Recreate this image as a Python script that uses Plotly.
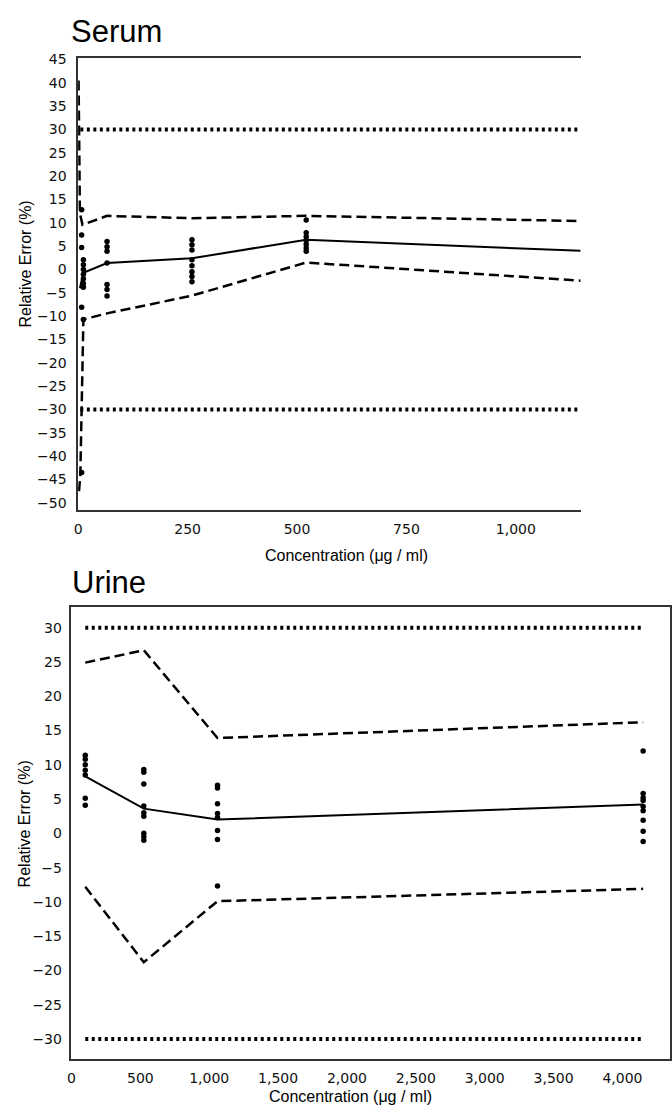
import plotly.graph_objects as go

# ---------------- Serum data ----------------
serum_pts_x = [8, 8, 8, 12, 12, 12, 12, 12, 12, 12, 8, 12, 8,
               66, 66, 66, 66, 66, 66, 66,
               260, 260, 260, 260, 260, 260, 260, 260,
               521, 521, 521, 521, 521, 521, 521]
serum_pts_y = [12.8, 7.4, 4.7, 2.1, 1.0, 0.0, -1.0, -2.0, -3.0, -3.8, -8.1, -10.7, -43.5,
               6.0, 4.9, 3.9, 1.4, -3.2, -4.3, -5.7,
               6.4, 5.3, 4.2, 2.1, 0.8, -0.5, -1.5, -2.6,
               10.6, 7.9, 7.0, 6.2, 5.4, 4.6, 3.9]

serum_mean_x = [4, 12, 66, 260, 521, 1148]
serum_mean_y = [-4.0, -0.7, 1.4, 2.4, 6.4, 4.0]

serum_upper_x = [1, 4, 10, 66, 260, 521, 1148]
serum_upper_y = [40.5, 12.0, 9.6, 11.5, 11.0, 11.5, 10.4]

serum_lower_x = [2, 5, 12, 66, 260, 521, 1148]
serum_lower_y = [-47.5, -44.0, -10.7, -9.4, -5.6, 1.5, -2.4]

serum_limit_x = [5, 1148]
serum_limit = 30

serum_yticks = list(range(-50, 50, 5))
serum_xticks = [0, 250, 500, 750, 1000]

# ---------------- Urine data ----------------
urine_pts_x = [100] * 7 + [525] * 9 + [1060] * 8 + [4150] * 9
urine_pts_y = [11.4, 10.8, 10.0, 9.2, 8.5, 5.1, 4.1,
               9.3, 8.9, 7.2, 4.0, 3.0, 2.5, 0.0, -0.5, -1.0,
               7.0, 6.6, 4.3, 2.9, 2.3, 0.4, -0.9, -7.7,
               12.0, 5.8, 5.2, 4.8, 3.9, 3.3, 1.9, 0.3, -1.2]

urine_line_x = [100, 525, 1060, 4150]
urine_mean_y = [8.3, 3.6, 2.0, 4.2]
urine_upper_y = [24.9, 26.7, 13.9, 16.2]
urine_lower_y = [-7.8, -18.8, -9.9, -8.1]

urine_limit_x = [100, 4150]
urine_limit = 30

urine_yticks = list(range(-30, 35, 5))
urine_xticks = list(range(0, 4500, 500))

# ---------------- figure ----------------
W, H = 672, 1105

def fx(p):
    return p / W

def fy(p):
    return 1 - p / H

fig = go.Figure()

BLACK = "#000000"
DASH = "10px,5px"
DOT = "3px,3.5px"

def add_panel(xa, ya, pts_x, pts_y, mean_x, mean_y, up_x, up_y, lo_x, lo_y, lim_x, lim):
    common = dict(xaxis=xa, yaxis=ya, showlegend=False, hoverinfo="skip")
    for sgn in (1, -1):
        fig.add_trace(go.Scatter(x=lim_x, y=[sgn * lim] * 2, mode="lines",
                                 line=dict(color=BLACK, width=4, dash=DOT), **common))
    fig.add_trace(go.Scatter(x=up_x, y=up_y, mode="lines",
                             line=dict(color=BLACK, width=2.5, dash=DASH), **common))
    fig.add_trace(go.Scatter(x=lo_x, y=lo_y, mode="lines",
                             line=dict(color=BLACK, width=2.5, dash=DASH), **common))
    fig.add_trace(go.Scatter(x=mean_x, y=mean_y, mode="lines",
                             line=dict(color=BLACK, width=2), **common))
    fig.add_trace(go.Scatter(x=pts_x, y=pts_y, mode="markers",
                             marker=dict(color=BLACK, size=5.5), **common))

add_panel("x", "y", serum_pts_x, serum_pts_y, serum_mean_x, serum_mean_y,
          serum_upper_x, serum_upper_y, serum_lower_x, serum_lower_y,
          serum_limit_x, serum_limit)
add_panel("x2", "y2", urine_pts_x, urine_pts_y, urine_line_x, urine_mean_y,
          urine_line_x, urine_upper_y, urine_line_x, urine_lower_y,
          urine_limit_x, urine_limit)

tickfont = dict(family="DejaVu Sans", size=14, color="#111111")
axline = dict(showline=True, linecolor="#333333", linewidth=1.5, showgrid=False,
              zeroline=False, ticks="", tickfont=tickfont)

fig.update_layout(
    width=W, height=H,
    margin=dict(l=0, r=0, t=0, b=0),
    paper_bgcolor="white", plot_bgcolor="white",
    xaxis=dict(domain=[fx(74.7), fx(581)], range=[0, 1148], anchor="y",
               tickvals=serum_xticks, tickformat=",d", mirror=True,
               ticklabelstandoff=5, **axline),
    yaxis=dict(domain=[fy(507), fy(52)], range=[-51.6, 45.4], anchor="x",
               tickvals=serum_yticks, mirror=False, ticklabelstandoff=7, **axline),
    xaxis2=dict(domain=[fx(68), fx(671)], range=[0, 4345], anchor="y2",
                tickvals=urine_xticks, tickformat=",d", mirror=True,
                ticklabelstandoff=5, **axline),
    yaxis2=dict(domain=[fy(1059), fy(604)], range=[-32.95, 33.05], anchor="x2",
                tickvals=urine_yticks, mirror=True, ticklabelstandoff=5, **axline),
)

title_font = dict(family="Liberation Sans", size=31, color="#000000")
label_font = dict(family="Liberation Sans", size=16, color="#000000")

annotations = [
    dict(text="Serum", x=fx(65), y=fy(26), xanchor="left", yanchor="middle", font=title_font),
    dict(text="Urine", x=fx(66), y=fy(580), xanchor="left", yanchor="middle", font=title_font),
    dict(text="Concentration (\u03bcg / ml)", x=fx(345), y=fy(553), xanchor="center",
         yanchor="middle", font=label_font),
    dict(text="Concentration (\u03bcg / ml)", x=fx(349), y=fy(1096), xanchor="center",
         yanchor="middle", font=label_font),
    dict(text="Relative Error (%)", x=fx(22), y=fy(259), xanchor="center", yanchor="middle",
         textangle=-90, font=label_font),
    dict(text="Relative Error (%)", x=fx(21), y=fy(822), xanchor="center", yanchor="middle",
         textangle=-90, font=label_font),
]
for a in annotations:
    a.update(xref="paper", yref="paper", showarrow=False)
fig.update_layout(annotations=annotations)

fig.write_html("out.html", config={"displayModeBar": False},
               post_script="document.body.style.margin='0';")
